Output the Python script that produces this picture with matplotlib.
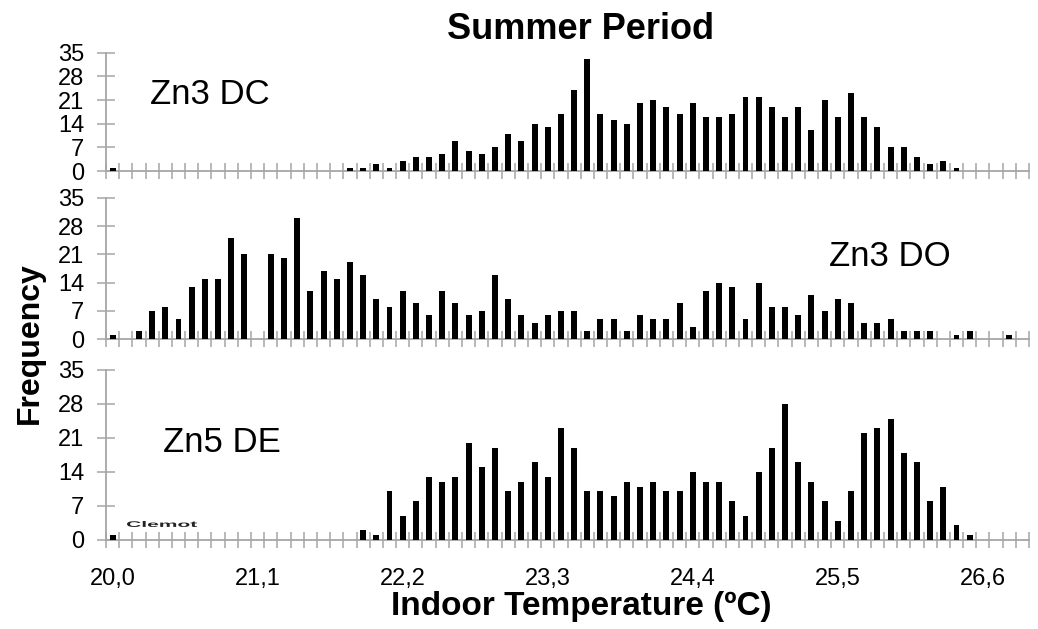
import matplotlib.pyplot as plt
import numpy as np
from matplotlib.textpath import TextPath
from matplotlib.patches import PathPatch
from matplotlib.font_manager import FontProperties
from matplotlib.transforms import Affine2D

plt.rcParams['font.family'] = ['Liberation Sans', 'DejaVu Sans']

# frequency per 0.1 ºC bin, bins 20,0 ... 26,9
zn3_dc = [1] + [0]*17 + [1, 1, 2, 1, 3, 4, 4, 5, 9, 6, 5, 7, 11, 9, 14, 13, 17, 24, 33, 17,
                         15, 14, 20, 21, 19, 17, 20, 16, 16, 17, 22, 22, 19, 16, 19, 12, 21, 16, 23, 16,
                         13, 7, 7, 4, 2, 3, 1] + [0]*5
zn3_do = [1, 0, 2, 7, 8, 5, 13, 15, 15, 25, 21, 0, 21, 20, 30, 12, 17, 15, 19, 16,
          10, 8, 12, 9, 6, 12, 9, 6, 7, 16, 10,
          6, 4, 6, 7, 7, 2, 5, 5, 2, 6, 5, 5, 9, 3, 12, 14, 13, 5, 14,
          8, 8, 6, 11, 7, 10, 9, 4, 4, 5, 2, 2, 2, 0, 1, 2, 0, 0, 1, 0]
zn5_de = [1] + [0]*18 + [2, 1, 10, 5, 8, 13, 12, 13, 20, 15, 19, 10, 12, 16, 13, 23, 19, 10, 10, 9,
                         12, 11, 12, 10, 10, 14, 12, 12, 8, 5, 14, 19, 28, 16, 12, 8, 4, 10, 22, 23,
                         25, 18, 16, 8, 11, 3, 1] + [0]*4

tick_pos = [0, 11, 22, 33, 44, 55, 66]
tick_labels = ["20,0", "21,1", "22,2", "23,3", "24,4", "25,5", "26,6"]
y_ticks = [0, 7, 14, 21, 28, 35]

fig = plt.figure(figsize=(10.38, 6.29), dpi=100)
W, H = 1038, 629
left, right = 106, 1029
panels = [(zn3_dc, 52.7, 171), (zn3_do, 197.7, 339.3), (zn5_de, 370, 540)]
gray = '#a6a6a6'

for i, (vals, top, bot) in enumerate(panels):
    ax = fig.add_axes([left / W, 1 - bot / H, (right - left) / W, (bot - top) / H])
    x = np.arange(len(vals))
    ax.bar(x, vals, width=0.45, color='black', zorder=3)
    ax.set_xlim(-0.5, len(vals) - 0.5)
    ax.set_ylim(0, 35)
    ax.set_yticks(y_ticks)
    for s in ['top', 'right']:
        ax.spines[s].set_visible(False)
    for s in ['left', 'bottom']:
        ax.spines[s].set_color(gray)
        ax.spines[s].set_linewidth(1.3)
    ax.set_xticks(np.arange(-0.5, len(vals), 1), minor=True)
    ax.set_xticks(tick_pos)
    ax.tick_params(axis='x', which='minor', direction='inout', length=12, width=1.1, color=gray)
    ax.tick_params(axis='y', direction='inout', length=13, width=1.1, color=gray,
                   labelsize=17, pad=9)
    if i == 2:
        ax.set_xticklabels(tick_labels)
        ax.tick_params(axis='x', which='major', length=0, labelsize=17, pad=20)
    else:
        ax.tick_params(axis='x', which='major', length=0, labelbottom=False)
    ax.patch.set_alpha(0)

fig.text(0.559, 0.953, "Summer Period", ha='center', va='center', fontsize=26, fontweight='bold')
fig.text(0.029, 0.455, "Frequency", ha='center', va='center', rotation=90,
         fontsize=23, fontweight='bold')
fig.text(0.56, 0.036, "Indoor Temperature (ºC)", ha='center', va='center',
         fontsize=24, fontweight='bold')

fig.text(150 / W, 1 - 95 / H, "Zn3 DC", ha='left', va='center', fontsize=25)
fig.text(829 / W, 1 - 257 / H, "Zn3 DO", ha='left', va='center', fontsize=25)
fig.text(163 / W, 1 - 442 / H, "Zn5 DE", ha='left', va='center', fontsize=25)

# small stretched watermark
tp = TextPath((0, 0), "Clemot", size=10, prop=FontProperties(family='Liberation Sans', weight='bold'))
bb = tp.get_extents()
sx = 70 / bb.width
sy = 6 / bb.height
tr = Affine2D().translate(-bb.x0, -bb.y0).scale(sx, sy).translate(127, H - 527)
fig.patches.append(PathPatch(tr.transform_path(tp), facecolor='#222222', edgecolor='none',
                             transform=None, figure=fig))

fig.savefig("out.png", dpi=100)
